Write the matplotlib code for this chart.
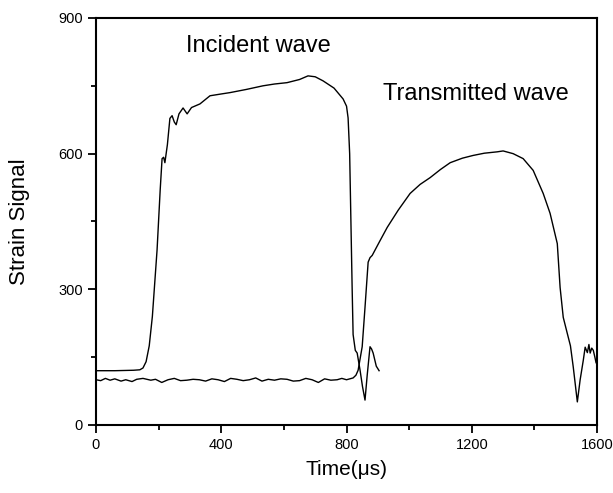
import matplotlib
matplotlib.use("Agg")
import matplotlib.pyplot as plt
from matplotlib.ticker import MultipleLocator

plt.rcParams['font.family'] = ['Liberation Sans', 'DejaVu Sans']

# incident wave (time in us, strain signal)
inc_t = [0, 60, 120, 140, 150, 160, 170, 180, 195, 205, 211, 216, 220, 228, 236, 243,
         250, 256, 265, 278, 285, 291, 305, 332, 364, 400, 428, 480, 533, 570, 610,
         650, 677, 700, 725, 760, 789, 800, 805, 810, 814, 818, 821, 828, 834, 843,
         851, 859, 866, 875, 880, 885, 895, 904]
inc_y = [120, 120, 121, 122, 126, 140, 175, 240, 387, 520, 589, 592, 580, 620, 678, 684,
         670, 664, 688, 701, 694, 688, 702, 710, 728, 732, 735, 742, 750, 754, 757,
         764, 772, 770, 761, 745, 721, 705, 679, 600, 450, 300, 200, 165, 159, 122,
         85, 55, 110, 173, 168, 159, 130, 120]

# transmitted wave
tr_t = [0, 15, 30, 45, 60, 80, 95, 115, 130, 150, 175, 190, 210, 230, 250, 270, 290,
        310, 330, 350, 370, 390, 410, 430, 450, 470, 490, 510, 530, 550, 570, 590,
        610, 630, 650, 670, 690, 710, 730, 750, 770, 785, 800, 821, 830, 837, 850,
        859, 869, 875, 882, 905, 930, 965, 1003, 1035, 1067, 1100, 1131, 1170, 1204,
        1240, 1281, 1300, 1332, 1364, 1396, 1428, 1450, 1473, 1482, 1492, 1504, 1515,
        1524, 1537, 1546, 1556, 1562, 1569, 1574, 1578, 1583, 1588, 1593, 1597, 1600]
tr_y = [100, 98, 103, 99, 102, 97, 100, 96, 101, 103, 99, 101, 94, 100, 103, 98, 99,
        101, 100, 97, 102, 100, 96, 103, 101, 98, 100, 104, 97, 101, 99, 102,
        101, 97, 98, 103, 100, 94, 102, 99, 100, 103, 100, 104, 110, 121, 173,
        260, 360, 370, 375, 405, 437, 475, 512, 532, 547, 565, 580, 590, 596,
        601, 604, 606, 600, 589, 563, 512, 468, 401, 304, 238, 205, 175,
        128, 51, 100, 143, 172, 160, 178, 159, 170, 165, 150, 137, 145]

fig = plt.figure(figsize=(6.13, 4.93), dpi=100)
ax = fig.add_axes([0.1566, 0.138, 0.8174, 0.8255])

ax.plot(inc_t, inc_y, color='black', lw=1.0)
ax.plot(tr_t, tr_y, color='black', lw=1.0)

ax.set_xlim(0, 1600)
ax.set_ylim(0, 900)
ax.xaxis.set_major_locator(MultipleLocator(400))
ax.xaxis.set_minor_locator(MultipleLocator(200))
ax.yaxis.set_major_locator(MultipleLocator(300))
ax.yaxis.set_minor_locator(MultipleLocator(150))
ax.tick_params(which='both', direction='out', width=1.3, top=False, right=False,
               labelsize=10.5)
ax.tick_params(which='major', length=6)
ax.tick_params(which='minor', length=3.5)
for s in ax.spines.values():
    s.set_linewidth(1.5)

ax.text(518, 838, 'Incident wave', fontsize=17, ha='center', va='center')
ax.text(1214, 732, 'Transmitted wave', fontsize=17, ha='center', va='center')

ax.set_xlabel('Time(\u03bcs)', fontsize=15, labelpad=6)
ax.set_ylabel('Strain Signal', fontsize=16, labelpad=20)

fig.savefig('out.png', dpi=100)
